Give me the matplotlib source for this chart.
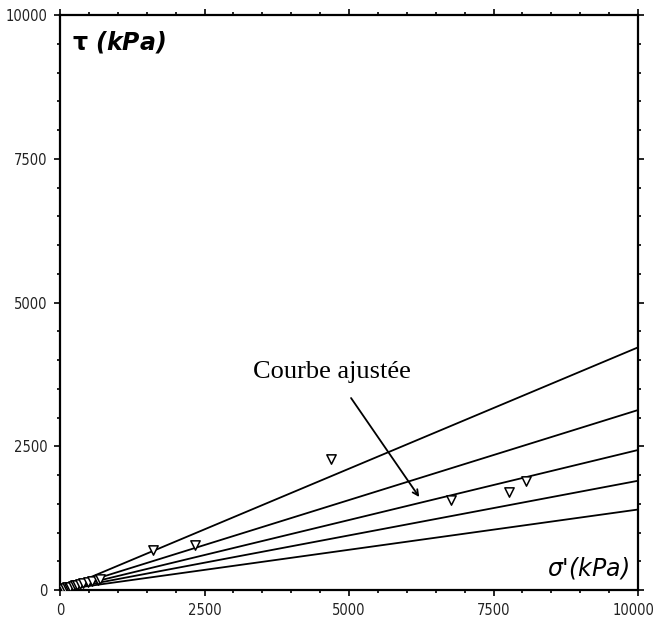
import numpy as np
import matplotlib
matplotlib.use('Agg')
import matplotlib.pyplot as plt
from matplotlib.ticker import MultipleLocator
from matplotlib.transforms import ScaledTranslation

# essais : contrainte normale effective / contrainte de cisaillement (kPa)
sigma = [60, 90, 120, 150, 180, 220, 260, 300, 350, 400, 480, 560, 660, 700,
         1600, 2330, 4690, 6770, 7760, 8060]
tau = [20, 30, 45, 40, 60, 70, 80, 95, 110, 120, 140, 160, 175, 200,
       700, 780, 2280, 1565, 1700, 1900]

# pentes des droites ajustees (tau = k * sigma')
slopes = [0.422, 0.313, 0.2435, 0.19, 0.14]

ticks = [0, 2500, 5000, 7500, 10000]

fig = plt.figure(figsize=(6.56, 6.21), dpi=100)
ax = fig.add_axes([0.0915, 0.0499, 0.8811, 0.9259])

xs = np.array([0, 10000])
for k in slopes:
    ax.plot(xs, k * xs, color='black', lw=1.3)

ax.scatter(sigma, tau, marker='v', s=45, facecolors='white',
           edgecolors='black', linewidths=1.1, zorder=3)

ax.set_xlim(0, 10000)
ax.set_ylim(0, 10000)
ax.set_xticks(ticks)
ax.set_yticks(ticks)
ax.xaxis.set_minor_locator(MultipleLocator(500))
ax.yaxis.set_minor_locator(MultipleLocator(500))
ax.tick_params(which='both', top=True, right=True, direction='out', width=1.2)
ax.tick_params(which='major', length=4, pad=5)
ax.tick_params(which='minor', length=2)
ax.tick_params(labeltop=False, labelright=False)
for lab in ax.get_xticklabels() + ax.get_yticklabels():
    lab.set_family(['DejaVu Sans'])
    lab.set_stretch('condensed')
    lab.set_fontsize(10.5)
    lab.set_color('#222222')
# le dernier libelle de l'axe x deborde a droite : on le decale un peu
last = ax.get_xticklabels()[-1]
last.set_transform(last.get_transform() +
                   ScaledTranslation(-5 / 100, 0, fig.dpi_scale_trans))
for s in ax.spines.values():
    s.set_linewidth(1.6)

ax.text(0.02, 0.975, r'$\mathbf{\tau}$ (kPa)', transform=ax.transAxes,
        ha='left', va='top', fontsize=17, style='italic', fontweight='bold')
ax.text(0.985, 0.015, r"$\sigma$'(kPa)", transform=ax.transAxes,
        ha='right', va='bottom', fontsize=17, style='italic')

ax.text(4705, 3791, 'Courbe ajustée', ha='center', va='center', fontsize=19,
        family=['Liberation Serif', 'DejaVu Serif'])
ax.annotate('', xy=(6215, 1617), xytext=(5035, 3339),
            arrowprops=dict(arrowstyle='->', color='black', lw=1.3,
                            shrinkA=0, shrinkB=0))

fig.savefig('out.png', dpi=100)
